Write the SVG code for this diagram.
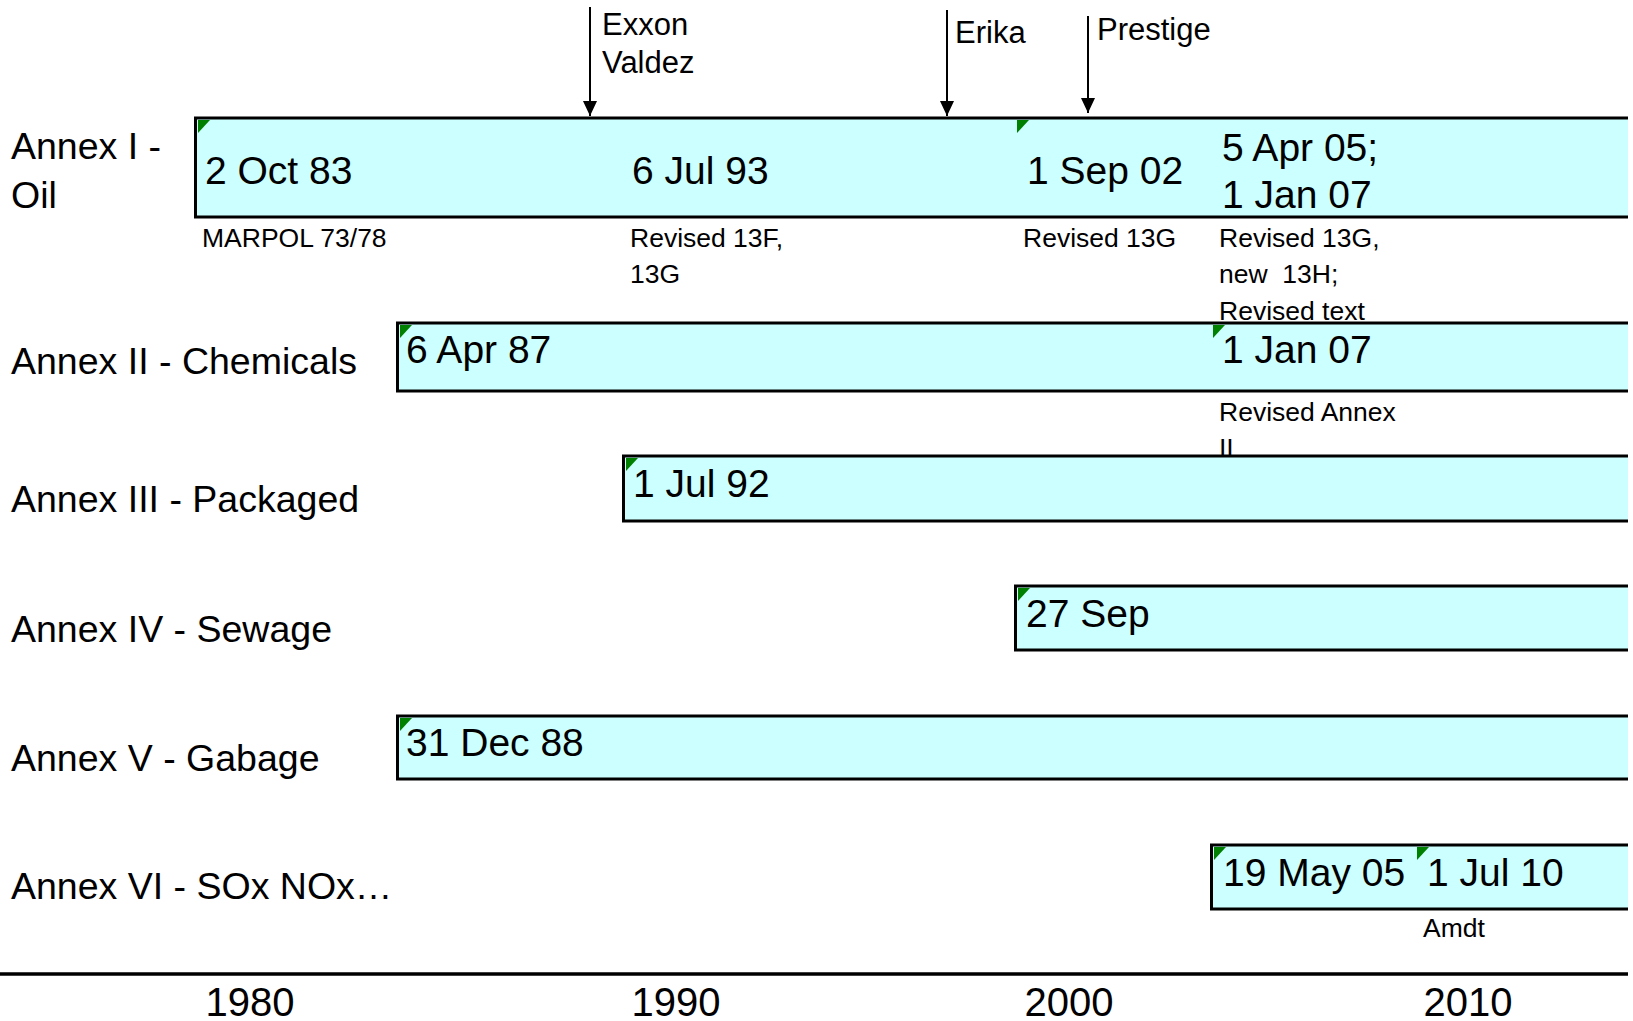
<svg xmlns="http://www.w3.org/2000/svg" width="1633" height="1021" viewBox="0 0 1633 1021">
<defs>
<marker id="ah" markerWidth="15" markerHeight="14" refX="15" refY="7" orient="auto" markerUnits="userSpaceOnUse" viewBox="0 0 15 14">
<path d="M0,0 L15,7 L0,14 Z" fill="#000"/>
</marker>
<style>
text{font-family:"Liberation Sans",Arial,sans-serif;fill:#000}
.row{font-size:37.5px}
.date{font-size:39px}
.note{font-size:26.5px}
.event{font-size:31px}
.year{font-size:40px;text-anchor:middle}
.fill{fill:#CCFFFF;stroke:none}
.edge{fill:none;stroke:#000;stroke-width:3}
.flag{fill:#008000}
.arr{stroke:#000;stroke-width:2;fill:none}
</style>
</defs>
<rect width="1633" height="1021" fill="#fff"/>

<g id="row-labels">
<text class="row" x="11" y="159">Annex I -</text>
<text class="row" x="11" y="208">Oil</text>
<text class="row" x="11" y="374">Annex II - Chemicals</text>
<text class="row" x="11" y="512">Annex III - Packaged</text>
<text class="row" x="11" y="642">Annex IV - Sewage</text>
<text class="row" x="11" y="771">Annex V - Gabage</text>
<text class="row" x="11" y="899">Annex VI - SOx NOx…</text>
</g>

<g id="notes">
<text class="note" x="202" y="247">MARPOL 73/78</text>
<text class="note" x="630" y="247">Revised 13F,</text>
<text class="note" x="630" y="283">13G</text>
<text class="note" x="1023" y="247">Revised 13G</text>
<text class="note" x="1219" y="247">Revised 13G,</text>
<text class="note" x="1219" y="283" xml:space="preserve">new  13H;</text>
<text class="note" x="1219" y="320">Revised text</text>
<text class="note" x="1219" y="421">Revised Annex</text>
<text class="note" x="1219" y="457">II</text>
<text class="note" x="1423" y="937">Amdt</text>
</g>

<g id="annex1">
<rect class="fill" x="195" y="118" width="1433" height="99"/>
<path class="edge" d="M1628,118 H195.5 V217 H1628"/>
<polygon class="flag" points="198,120 210,120 198,133"/>
<polygon class="flag" points="1017,120 1029,120 1017,133"/>
<text class="date" x="205" y="184">2 Oct 83</text>
<text class="date" x="632" y="184">6 Jul 93</text>
<text class="date" x="1027" y="184">1 Sep 02</text>
<text class="date" x="1222" y="161">5 Apr 05;</text>
<text class="date" x="1222" y="208">1 Jan 07</text>
</g>

<g id="annex2">
<rect class="fill" x="397" y="323" width="1231" height="68"/>
<path class="edge" d="M1628,323 H397.5 V391 H1628"/>
<polygon class="flag" points="400,325 412,325 400,338"/>
<polygon class="flag" points="1213,325 1225,325 1213,338"/>
<text class="date" x="406" y="363">6 Apr 87</text>
<text class="date" x="1222" y="363">1 Jan 07</text>
</g>

<g id="annex3">
<rect class="fill" x="623" y="456" width="1005" height="65"/>
<path class="edge" d="M1628,456 H623.5 V521 H1628"/>
<polygon class="flag" points="626,458 638,458 626,471"/>
<text class="date" x="633" y="497">1 Jul 92</text>
</g>

<g id="annex4">
<rect class="fill" x="1015" y="586" width="613" height="64"/>
<path class="edge" d="M1628,586 H1015.5 V650 H1628"/>
<polygon class="flag" points="1018,588 1030,588 1018,601"/>
<text class="date" x="1026" y="627">27 Sep</text>
</g>

<g id="annex5">
<rect class="fill" x="397" y="716" width="1231" height="63"/>
<path class="edge" d="M1628,716 H397.5 V779 H1628"/>
<polygon class="flag" points="400,718 412,718 400,731"/>
<text class="date" x="406" y="756">31 Dec 88</text>
</g>

<g id="annex6">
<rect class="fill" x="1211" y="845" width="417" height="64"/>
<path class="edge" d="M1628,845 H1211.5 V909 H1628"/>
<polygon class="flag" points="1214,847 1226,847 1214,860"/>
<polygon class="flag" points="1417,847 1429,847 1417,860"/>
<text class="date" x="1223" y="886">19 May 05</text>
<text class="date" x="1427" y="886">1 Jul 10</text>
</g>

<g id="events">
<text class="event" x="602" y="35">Exxon</text>
<text class="event" x="602" y="73">Valdez</text>
<text class="event" x="955" y="43">Erika</text>
<text class="event" x="1097" y="40">Prestige</text>
</g>

<g id="connectors">
<line class="arr" x1="590" y1="7" x2="590" y2="116" marker-end="url(#ah)"/>
<line class="arr" x1="947" y1="10" x2="947" y2="116" marker-end="url(#ah)"/>
<line class="arr" x1="1088" y1="16" x2="1088" y2="113" marker-end="url(#ah)"/>
</g>

<g id="axis">
<line x1="0" y1="974" x2="1628" y2="974" stroke="#000" stroke-width="3.5"/>
<text class="year" x="250" y="1016">1980</text>
<text class="year" x="676" y="1016">1990</text>
<text class="year" x="1069" y="1016">2000</text>
<text class="year" x="1468" y="1016">2010</text>
</g>
</svg>
